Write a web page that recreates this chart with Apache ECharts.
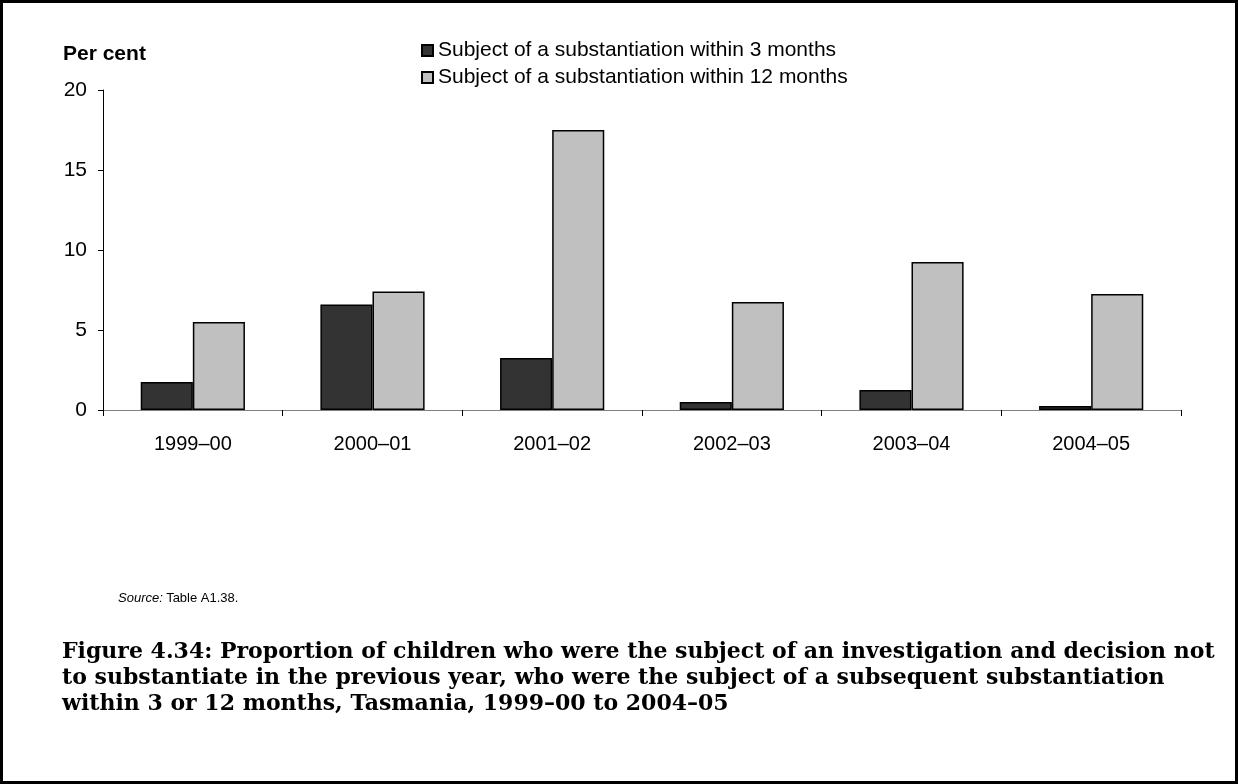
<!DOCTYPE html>
<html><head><meta charset="utf-8">
<script src="https://cdn.jsdelivr.net/npm/echarts@6/dist/echarts.min.js"></script>
<style>
html,body{margin:0;padding:0;background:#fff;}
#c{width:1238px;height:784px;box-sizing:border-box;border:3px solid #000;}
</style></head>
<body><div id="c"></div>
<script>
const categories = ['1999–00','2000–01','2001–02','2002–03','2003–04','2004–05'];
const within3 = [1.75, 6.6, 3.25, 0.5, 1.25, 0.25];
const within12 = [5.5, 7.4, 17.5, 6.75, 9.25, 7.25];
const seriesNames = ['Subject of a substantiation within 3 months','Subject of a substantiation within 12 months'];
const yTicks = {min:0, max:20, interval:5};

const chart = echarts.init(document.getElementById('c'));
chart.setOption({
  animation:false,
  backgroundColor:'#fff',
  grid:{left:100, right:54, top:87, bottom:371},
  legend:{
    orient:'vertical', left:413, top:32, itemWidth:11, itemHeight:11, itemGap:6,
    textStyle:{fontFamily:'Liberation Sans, Arial', fontSize:21, color:'#000'},
    data:seriesNames.map(n=>({name:n, icon:'rect'}))
  },
  xAxis:{
    type:'category', data:categories,
    axisLine:{lineStyle:{color:'#808080', width:1}},
    axisTick:{show:true, length:6, lineStyle:{color:'#000'}},
    axisLabel:{color:'#000', fontFamily:'Liberation Sans, Arial', fontSize:20, margin:24}
  },
  yAxis:{
    type:'value', min:yTicks.min, max:yTicks.max, interval:yTicks.interval,
    splitLine:{show:false},
    axisLine:{show:true, lineStyle:{color:'#000', width:1}},
    axisTick:{show:true, length:5, lineStyle:{color:'#000'}},
    axisLabel:{color:'#000', fontFamily:'Liberation Sans, Arial', fontSize:21, margin:16}
  },
  graphic:[
    {type:'text', left:60, top:41, style:{text:'Per cent', font:'bold 21px "Liberation Sans", Arial', fill:'#000'}},
    {type:'text', left:115, top:589, style:{rich:{i:{fontStyle:'italic', fontFamily:'Liberation Sans, Arial', fontSize:13, fill:'#000'}, n:{fontFamily:'Liberation Sans, Arial', fontSize:13, fill:'#000'}}, text:'{i|Source:} {n|Table A1.38.}'}},
    {type:'text', left:59, top:636, style:{text:'Figure 4.34: Proportion of children who were the subject of an investigation and decision not\nto substantiate in the previous year, who were the subject of a subsequent substantiation\nwithin 3 or 12 months, Tasmania, 1999–00 to 2004–05', font:'bold 22px "DejaVu Serif", serif', lineHeight:26, fill:'#000'}}
  ],
  series:[
    {name:seriesNames[0], type:'bar', data:within3, barGap:'0%', barCategoryGap:'42%',
     itemStyle:{color:'#333333', borderColor:'#000', borderWidth:1.5}},
    {name:seriesNames[1], type:'bar', data:within12, barGap:'0%', barCategoryGap:'42%',
     itemStyle:{color:'#c0c0c0', borderColor:'#000', borderWidth:1.5}}
  ]
});
</script></body></html>
